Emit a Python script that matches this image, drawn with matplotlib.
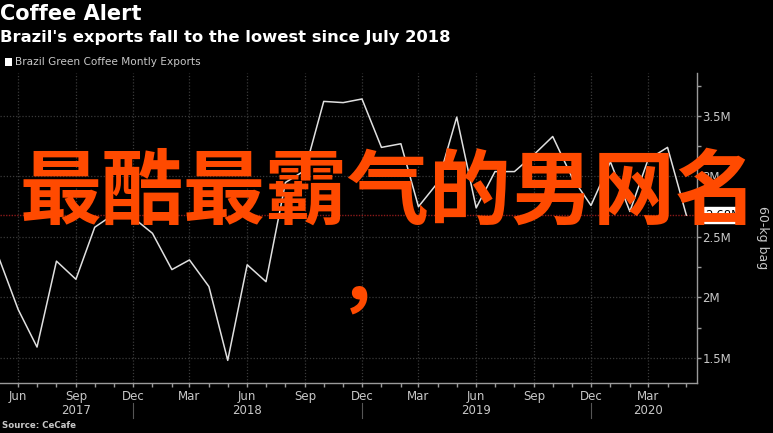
import matplotlib
matplotlib.use("Agg")
import matplotlib.pyplot as plt
import matplotlib.dates as mdates
import pandas as pd

# Brazil green coffee monthly exports, million 60-kg bags, May 2017 - May 2020
exports = [2.33, 1.90, 1.59, 2.30, 2.15, 2.58, 2.69, 2.66, 2.53, 2.23, 2.31, 2.09,
           1.48, 2.27, 2.13, 2.95, 3.05, 3.62, 3.61, 3.64, 3.24, 3.27, 2.75, 2.95,
           3.49, 2.74, 3.04, 3.04, 3.18, 3.33, 2.99, 2.76, 3.12, 2.71, 3.14, 3.24,
           2.68]
start_month = "2017-05-01"
y_ticks = [1.5, 2.0, 2.5, 3.0, 3.5]
y_tick_labels = ["1.5M", "2M", "2.5M", "3M", "3.5M"]
years = ["2017", "2018", "2019", "2020"]
year_label_months = ["2017-09-01", "2018-06-01", "2019-06-01", "2020-03-01"]
year_breaks = ["2017-12-01", "2018-12-01", "2019-12-01"]

months = pd.date_range(start_month, periods=len(exports), freq="MS")
last = exports[-1]

bg = "#000000"
fg = "#c8c8c8"
grid_c = "#3a3a3a"

plt.rcParams['font.family'] = ['DejaVu Sans']
fig = plt.figure(figsize=(7.73, 4.33), dpi=100, facecolor=bg)
ax = fig.add_axes([0.0, 0.1155, 0.9017, 0.7160])
ax.set_facecolor(bg)

ax.plot(months, exports, color="#e0e0e0", lw=1.1, zorder=3)
ax.axhline(last, color="#8a1a1a", lw=1.0, ls=(0, (1, 1)), zorder=2)

ax.set_xlim(pd.Timestamp("2017-05-03"), pd.Timestamp("2020-05-18"))
ax.set_ylim(1.293, 3.855)

# axes / spines
for s in ["left", "top"]:
    ax.spines[s].set_visible(False)
for s in ["right", "bottom"]:
    ax.spines[s].set_color("#9a9a9a")
    ax.spines[s].set_linewidth(1.0)

ax.yaxis.tick_right()
ax.set_yticks(y_ticks)
ax.set_yticklabels(y_tick_labels)
ax.set_yticks([1.75, 2.25, 2.75, 3.25, 3.75], minor=True)
ax.tick_params(axis="y", which="both", colors="#9a9a9a", labelcolor=fg,
               direction="out", length=3, width=1, labelsize=8.5, pad=1)

ax.xaxis.set_major_locator(mdates.MonthLocator(bymonth=[3, 6, 9, 12]))
ax.xaxis.set_major_formatter(mdates.DateFormatter("%b"))
ax.xaxis.set_minor_locator(mdates.MonthLocator())
ax.tick_params(axis="x", which="both", colors="#9a9a9a", labelcolor=fg,
               direction="out", length=3, width=1, labelsize=8.5, pad=2)

ax.grid(True, which="major", color=grid_c, lw=0.9, ls=(0, (1, 1.5)))

# year labels and separators below the month labels
for yr, m in zip(years, year_label_months):
    ax.text(pd.Timestamp(m), -0.088, yr, transform=ax.get_xaxis_transform(),
            ha="center", va="center", color=fg, fontsize=8.5)
for b in year_breaks:
    ax.plot([pd.Timestamp(b)] * 2, [-0.065, -0.113], transform=ax.get_xaxis_transform(),
            color="#555555", lw=0.8, clip_on=False)

# last value box
ax.text(1.012, (last - 1.293) / (3.855 - 1.293), "%.2fM" % last,
        transform=ax.transAxes, ha="left", va="center", fontsize=8.5, color="#000000",
        bbox=dict(boxstyle="square,pad=0.1", fc="#ffffff", ec="#ffffff"))

fig.text(0.986, 0.452, "60-kg bag", rotation=-90, ha="center", va="center",
         color=fg, fontsize=9)

# titles
fig.text(0.0, 0.968, "Coffee Alert", ha="left", va="center", color="#ffffff",
         fontsize=15, fontweight="bold")
fig.text(0.0, 0.914, "Brazil's exports fall to the lowest since July 2018",
         ha="left", va="center", color="#ffffff", fontsize=11.8, fontweight="bold")
fig.patches.append(plt.Rectangle((0.006, 0.848), 0.0095, 0.017, transform=fig.transFigure,
                                 fc="#ffffff", ec="none"))
fig.text(0.019, 0.857, "Brazil Green Coffee Montly Exports", ha="left", va="center",
         color=fg, fontsize=7.6)
fig.text(0.003, 0.018, "Source: CeCafe", ha="left", va="center", color=fg,
         fontsize=6.2, fontweight="bold")

# overlay text
fig.text(0.503, 0.553, "最酷最霸气的男网名", ha="center", va="center", color="#ff4a00",
         fontsize=59, fontweight="bold", family=["Noto Sans CJK SC", "DejaVu Sans"])
fig.text(0.485, 0.35, "，", ha="center", va="center", color="#ff4a00",
         fontsize=54, fontweight="bold", family=["Noto Sans CJK SC", "DejaVu Sans"])

fig.savefig("out.png", dpi=100, facecolor=bg)
